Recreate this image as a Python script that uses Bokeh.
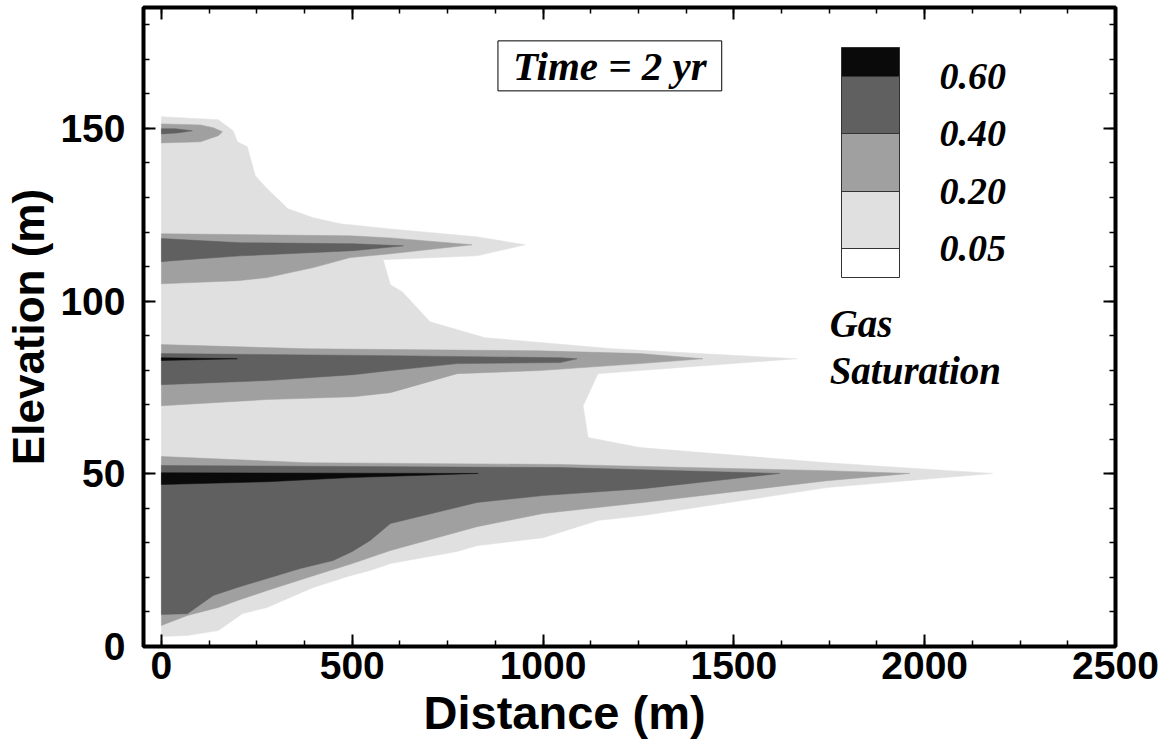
from bokeh.plotting import figure
from bokeh.models import (Range1d, LinearAxis, SingleIntervalTicker, ColorBar,
                          LinearColorMapper, FixedTicker, Label, Title)
from bokeh.embed import file_html
from bokeh.resources import INLINE

# ---------------- data ----------------
levels = [0.05, 0.20, 0.40, 0.60]
level_colors = ["#e0e0e0", "#a0a0a0", "#606060", "#0a0a0a"]
time_label = "Time = 2 yr"

# contour outlines: Distance (m), Elevation (m)
# Sg >= 0.05
s05_x = [0, 149, 188, 199, 225, 246, 277, 332, 398, 469, 600, 827, 953, 827, 581, 600, 631,
         704, 848, 1183, 1665, 1254, 1144, 1105, 1118, 1254, 1744, 2178, 1744, 1262, 1144,
         1000, 827, 775, 600, 547, 495, 398, 277, 212, 149, 68, 0]
s05_y = [153.4, 152.5, 149.3, 146.1, 144.7, 136.3, 132.5, 126.7, 124.1, 122.4, 120.9, 118.6,
         116.3, 113.1, 112.0, 104.7, 102.7, 94.0, 89.4, 86.2, 83.3, 79.9, 79.0, 69.7, 60.5,
         57.6, 53.2, 50.1, 46.0, 37.9, 36.5, 31.5, 29.2, 27.5, 24.0, 22.0, 20.5, 17.1, 11.3,
         9.5, 4.6, 3.2, 2.9]

# Sg >= 0.20
s20_a_x = [0, 102, 136, 160, 149, 102, 0]
s20_a_y = [151.3, 151.0, 150.2, 149.0, 147.9, 146.1, 145.8]
s20_b_x = [0, 495, 600, 814, 600, 495, 398, 277, 199, 0]
s20_b_y = [119.5, 118.9, 118.3, 116.3, 113.7, 112.6, 109.7, 106.8, 105.9, 105.0]
s20_c_x = [0, 382, 992, 1254, 1419, 1254, 992, 775, 600, 503, 277, 0]
s20_c_y = [87.4, 86.2, 85.6, 84.8, 83.3, 81.9, 79.9, 79.0, 73.5, 72.3, 71.5, 69.7]
s20_d_x = [0, 382, 1045, 1744, 1961, 1744, 1262, 1000, 827, 600, 500, 398, 277, 199, 149, 68, 0]
s20_d_y = [55.0, 53.2, 52.7, 50.9, 50.1, 48.0, 41.7, 38.5, 34.7, 27.8, 24.0, 20.5, 16.2, 13.3,
           11.3, 9.0, 6.1]

# Sg >= 0.40
s40_a_x = [0, 37, 81, 42, 0]
s40_a_y = [149.9, 149.9, 149.3, 148.7, 148.4]
s40_b_x = [0, 207, 503, 634, 503, 207, 29, 0]
s40_b_y = [118.1, 116.9, 116.6, 116.0, 114.6, 113.1, 111.7, 111.4]
s40_c_x = [0, 600, 1045, 1089, 1045, 775, 600, 503, 277, 0]
s40_c_y = [84.8, 84.2, 83.6, 83.3, 82.2, 81.9, 79.9, 78.7, 77.0, 75.8]
s40_d_x = [0, 1045, 1620, 1262, 1000, 827, 600, 547, 500, 450, 364, 277, 199, 136, 68, 0]
s40_d_y = [52.4, 51.8, 50.1, 45.7, 43.7, 41.7, 35.6, 30.7, 27.5, 24.9, 22.6, 19.7, 17.1, 14.8,
           9.5, 9.3]

# Sg >= 0.60
s60_a_x = [0, 199, 0]
s60_a_y = [83.6, 83.3, 82.8]
s60_b_x = [0, 830, 495, 277, 0]
s60_b_y = [50.3, 50.1, 48.9, 47.7, 46.9]

layers = [
    ([s05_x], [s05_y]),
    ([s20_a_x, s20_b_x, s20_c_x, s20_d_x], [s20_a_y, s20_b_y, s20_c_y, s20_d_y]),
    ([s40_a_x, s40_b_x, s40_c_x, s40_d_x], [s40_a_y, s40_b_y, s40_c_y, s40_d_y]),
    ([s60_a_x, s60_b_x], [s60_a_y, s60_b_y]),
]

# ---------------- figure ----------------
SANS = "Liberation Sans"
SERIF = "Liberation Serif"

p = figure(width=1160, height=744,
           x_range=Range1d(-47, 2500), y_range=Range1d(0, 185),
           output_backend="svg", toolbar_location=None,
           min_border_left=143, min_border_right=45,
           min_border_top=7, min_border_bottom=98)
p.xaxis.ticker = SingleIntervalTicker(interval=500, num_minor_ticks=4)
p.yaxis.ticker = SingleIntervalTicker(interval=50, num_minor_ticks=5)
p.grid.visible = False
p.outline_line_color = "black"
p.outline_line_width = 4
p.background_fill_color = "white"
p.border_fill_color = "white"

for (xs, ys), col in zip(layers, level_colors):
    p.patches(xs=xs, ys=ys, fill_color=col, line_color=col, line_width=0.5)

# mirrored axes (ticks only)
top_axis = LinearAxis(ticker=SingleIntervalTicker(interval=500, num_minor_ticks=4))
right_axis = LinearAxis(ticker=SingleIntervalTicker(interval=50, num_minor_ticks=5))
p.add_layout(top_axis, "above")
p.add_layout(right_axis, "right")

for ax in p.axis:
    ax.axis_line_color = None
    ax.major_tick_in = 12
    ax.major_tick_out = 0
    ax.minor_tick_in = 6
    ax.minor_tick_out = 0
    ax.major_tick_line_color = "black"
    ax.minor_tick_line_color = "black"
    ax.major_tick_line_width = 2
    ax.minor_tick_line_width = 1.5
    ax.major_label_text_font = SANS
    ax.major_label_text_font_style = "bold"
    ax.major_label_text_font_size = "39px"
    ax.major_label_text_color = "black"
    ax.axis_label_text_font = SANS
    ax.axis_label_text_font_style = "bold"
    ax.axis_label_text_font_size = "44px"
    ax.axis_label_text_color = "black"

for ax in (top_axis, right_axis):
    ax.major_label_text_font_size = "1px"
    ax.major_label_text_color = None
    ax.major_label_standoff = 0

p.below[0].major_label_standoff = 5
p.left[0].axis_label = "Elevation (m)"
p.left[0].major_label_standoff = 18
p.left[0].axis_label_standoff = 4

# x-axis title (sits left of centre in the original)
p.add_layout(Title(text="Distance (m)", align="left", offset=280,
                   text_font=SANS, text_font_style="bold", text_font_size="47px",
                   text_color="black", standoff=5), "below")

# legend colour bar
bar_palette = ["#ffffff"] + [c for c in level_colors[:-1] for _ in range(2)] + [level_colors[-1]]
mapper = LinearColorMapper(palette=bar_palette, low=0.5, high=len(levels) + 0.5)
cb = ColorBar(color_mapper=mapper,
              ticker=FixedTicker(ticks=list(range(1, len(levels) + 1))),
              major_label_overrides={i + 1: f"{lv:.2f}" for i, lv in enumerate(levels)},
              width=58, height=230, location=(698, 369), padding=0,
              background_fill_alpha=0, border_line_color=None,
              bar_line_color="#333333", bar_line_width=1,
              major_tick_in=58, major_tick_out=0,
              major_tick_line_color="#333333", major_tick_line_width=1,
              minor_tick_line_color=None,
              label_standoff=40,
              major_label_text_font=SERIF, major_label_text_font_style="bold italic",
              major_label_text_font_size="38px", major_label_text_color="black")
p.add_layout(cb, "center")

p.add_layout(Label(x=1751, y=93.6, text="Gas", text_font=SERIF, text_color="black",
                   text_font_style="bold italic", text_font_size="39px",
                   text_baseline="alphabetic"))
p.add_layout(Label(x=1751, y=80.0, text="Saturation", text_font=SERIF, text_color="black",
                   text_font_style="bold italic", text_font_size="39px",
                   text_baseline="alphabetic"))
p.add_layout(Label(x=1175, y=168.1, text=time_label, text_font=SERIF, text_color="black",
                   text_font_style="bold italic", text_font_size="41px",
                   text_align="center", text_baseline="middle",
                   border_line_color="black", border_line_width=1,
                   background_fill_color="white", padding=(15, 2)))

open("out.html", "w").write(file_html(p, INLINE))
